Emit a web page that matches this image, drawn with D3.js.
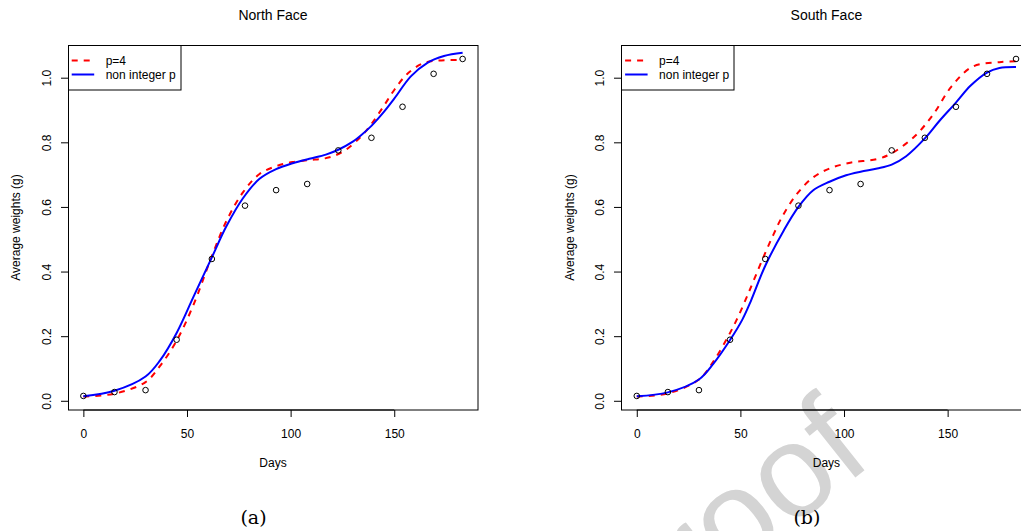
<!DOCTYPE html>
<html>
<head>
<meta charset="utf-8">
<script src="https://cdn.jsdelivr.net/npm/d3@7"></script>
<style>
body { margin: 0; background: #fff; }
svg text { font-family: "Liberation Sans", Arial, Helvetica, sans-serif; }
</style>
</head>
<body>
<div id="chart"></div>
<script>
// observed average weights (same sampling in both panels)
var days = [0, 15, 30, 45, 62, 78, 93, 108, 123, 139, 154, 169, 183];
var weights = [0.015, 0.027, 0.033, 0.189, 0.439, 0.604, 0.652, 0.671, 0.775, 0.814, 0.910, 1.012, 1.058];

var xTicks = [0, 50, 100, 150];
var yTicks = [0, 0.2, 0.4, 0.6, 0.8, 1.0];
var legendLabels = ['p=4', 'non integer p'];

// North face fitted curves
var northP4Days = [0, 15, 30, 37, 45, 53, 62, 69, 77, 85, 93, 101, 109, 117, 125, 134, 139, 145, 150, 156, 163, 169, 183];
var northP4 = [0.013, 0.022, 0.058, 0.108, 0.186, 0.295, 0.448, 0.556, 0.645, 0.702, 0.726, 0.739, 0.745, 0.751, 0.770, 0.818, 0.857, 0.913, 0.962, 1.010, 1.042, 1.052, 1.055];
var northNonIntDays = [0, 15, 30, 37, 45, 53, 62, 69, 77, 85, 93, 101, 109, 117, 123, 130, 134, 139, 145, 150, 158, 166, 174, 183];
var northNonInt = [0.014, 0.031, 0.075, 0.125, 0.210, 0.320, 0.444, 0.540, 0.627, 0.687, 0.717, 0.735, 0.749, 0.762, 0.777, 0.802, 0.822, 0.851, 0.894, 0.935, 1.004, 1.046, 1.067, 1.077];

// South face fitted curves
var southP4Days = [0, 15, 30, 37, 44, 48, 52, 56, 62, 66, 70, 77, 85, 93, 103, 116, 123, 134, 143, 152, 162, 175, 183];
var southP4 = [0.013, 0.023, 0.066, 0.122, 0.198, 0.248, 0.305, 0.366, 0.458, 0.515, 0.568, 0.638, 0.691, 0.719, 0.737, 0.748, 0.766, 0.818, 0.886, 0.974, 1.034, 1.048, 1.051];
var southNonIntDays = [0, 15, 30, 37, 45, 51, 55, 62, 71, 78, 85, 93, 101, 108, 116, 123, 130, 139, 146, 154, 161, 169, 175, 183];
var southNonInt = [0.014, 0.026, 0.066, 0.115, 0.188, 0.252, 0.308, 0.418, 0.528, 0.600, 0.651, 0.678, 0.698, 0.709, 0.719, 0.731, 0.757, 0.812, 0.866, 0.923, 0.975, 1.016, 1.030, 1.033];

var width = 1021, height = 531;

var svg = d3.select('#chart')
    .append('svg')
    .attr('width', width)
    .attr('height', height);

// faint "proof" watermark sitting behind the right panel
svg.append('text')
    .attr('transform', 'translate(875,462) rotate(-38.5)')
    .attr('text-anchor', 'end')
    .attr('font-size', 132)
    .attr('fill', '#d4d4d4')
    .text('Journal Pre-proof');

var plotTop = 45, plotBottom = 410;

var panels = [
    {title: 'North Face', tag: '(a)', left: 68.2, right: 477.8,
     p4: [northP4Days, northP4], nonInt: [northNonIntDays, northNonInt]},
    {title: 'South Face', tag: '(b)', left: 621.6, right: 1031.2,
     p4: [southP4Days, southP4], nonInt: [southNonIntDays, southNonInt]}
];

function drawPanel(p, idx) {
    var x = d3.scaleLinear().domain([-7.32, 190.32]).range([p.left, p.right]);
    var y = d3.scaleLinear().domain([-0.0285, 1.1012]).range([plotBottom, plotTop]);
    var bx = Math.floor(p.left) + 0.5;
    var mid = (p.left + p.right) / 2;

    var g = svg.append('g');

    // clip for curves
    g.append('clipPath')
        .attr('id', 'clip' + idx)
        .append('rect')
        .attr('x', p.left).attr('y', plotTop)
        .attr('width', p.right - p.left).attr('height', plotBottom - plotTop);

    // plot box
    g.append('rect')
        .attr('x', bx).attr('y', plotTop + 0.5)
        .attr('width', Math.round(p.right) - bx)
        .attr('height', plotBottom - plotTop - 0.5)
        .attr('fill', 'none')
        .attr('stroke', '#000')
        .attr('stroke-width', 1);

    // x axis
    var xAxis = d3.axisBottom(x)
        .tickValues(xTicks)
        .tickSize(7)
        .tickSizeOuter(0)
        .tickPadding(12)
        .tickFormat(d3.format('d'));

    var xg = g.append('g')
        .attr('transform', 'translate(0,' + plotBottom + ')')
        .call(xAxis);
    xg.select('.domain').remove();
    xg.append('line')
        .attr('x1', x(xTicks[0])).attr('x2', x(xTicks[xTicks.length - 1]))
        .attr('y1', 0).attr('y2', 0)
        .attr('stroke', '#000');
    xg.selectAll('text')
        .attr('font-size', 12)
        .attr('font-family', '"Liberation Sans", Arial, sans-serif');

    // y axis
    var yAxis = d3.axisLeft(y)
        .tickValues(yTicks)
        .tickSize(7)
        .tickSizeOuter(0)
        .tickFormat(d3.format('.1f'));

    var yg = g.append('g')
        .attr('transform', 'translate(' + Math.floor(p.left) + ',0)')
        .call(yAxis);
    yg.select('.domain').remove();
    yg.append('line')
        .attr('x1', 0.5).attr('x2', 0.5)
        .attr('y1', y(yTicks[0])).attr('y2', y(yTicks[yTicks.length - 1]))
        .attr('stroke', '#000');
    yg.selectAll('text')
        .attr('font-size', 12)
        .attr('font-family', '"Liberation Sans", Arial, sans-serif')
        .attr('x', 0)
        .attr('dy', 0)
        .attr('text-anchor', 'middle')
        .attr('transform', 'translate(-17.3,0) rotate(-90)');

    // titles and axis labels
    g.append('text')
        .attr('x', mid).attr('y', 20)
        .attr('text-anchor', 'middle')
        .attr('font-size', 14)
        .text(p.title);

    g.append('text')
        .attr('x', mid).attr('y', 467)
        .attr('text-anchor', 'middle')
        .attr('font-size', 12)
        .text('Days');

    g.append('text')
        .attr('transform', 'translate(' + (p.left - 47.8) + ',' + ((plotTop + plotBottom) / 2) + ') rotate(-90)')
        .attr('text-anchor', 'middle')
        .attr('font-size', 12)
        .text('Average weights (g)');

    g.append('text')
        .attr('x', mid - 19.5).attr('y', 524)
        .attr('text-anchor', 'middle')
        .attr('font-size', 19)
        .style('font-family', '"DejaVu Serif", serif')
        .text(p.tag);

    // fitted curves
    var line = d3.line()
        .x(function(d) { return x(d[0]); })
        .y(function(d) { return y(d[1]); })
        .curve(d3.curveCatmullRom.alpha(0.5));

    var curves = g.append('g').attr('clip-path', 'url(#clip' + idx + ')');

    curves.append('path')
        .datum(d3.zip(p.p4[0], p.p4[1]))
        .attr('d', line)
        .attr('fill', 'none')
        .attr('stroke', '#ff0000')
        .attr('stroke-width', 2)
        .attr('stroke-dasharray', '6,6');

    curves.append('path')
        .datum(d3.zip(p.nonInt[0], p.nonInt[1]))
        .attr('d', line)
        .attr('fill', 'none')
        .attr('stroke', '#0000ff')
        .attr('stroke-width', 2);

    // observed points
    g.selectAll('circle.obs')
        .data(d3.zip(days, weights))
        .enter()
        .append('circle')
        .attr('class', 'obs')
        .attr('cx', function(d) { return x(d[0]); })
        .attr('cy', function(d) { return y(d[1]); })
        .attr('r', 2.8)
        .attr('fill', 'none')
        .attr('stroke', '#000')
        .attr('stroke-width', 1);

    // legend
    var lg = g.append('g');
    lg.append('rect')
        .attr('x', bx).attr('y', plotTop + 0.5)
        .attr('width', 112.5).attr('height', 44.5)
        .attr('fill', '#fff')
        .attr('stroke', '#000');

    var styles = [{c: '#ff0000', dash: '6,6'}, {c: '#0000ff', dash: null}];
    legendLabels.forEach(function(lab, i) {
        var ly = 60.5 + i * 14;
        lg.append('line')
            .attr('x1', p.left + 3.5).attr('x2', p.left + 26)
            .attr('y1', ly).attr('y2', ly)
            .attr('stroke', styles[i].c)
            .attr('stroke-width', 2)
            .attr('stroke-dasharray', styles[i].dash);
        lg.append('text')
            .attr('x', p.left + 37.5).attr('y', ly + 4.5)
            .attr('font-size', 12)
            .text(lab);
    });
}

panels.forEach(drawPanel);
</script>
</body>
</html>
